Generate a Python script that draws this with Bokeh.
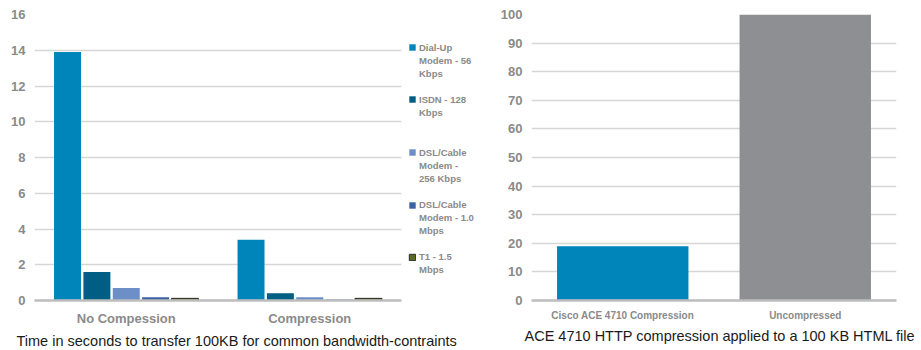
from bokeh.plotting import figure
from bokeh.layouts import row
from bokeh.models import (ColumnDataSource, FactorRange, Range1d, Legend, LegendItem,
                          Title, SingleIntervalTicker, FixedTicker)
from bokeh.transform import dodge
from bokeh.embed import file_html
from bokeh.resources import INLINE

# ---------------- data ----------------
categories = ["No Compession", "Compression"]
series_labels = [["Dial-Up", "Modem - 56", "Kbps"],
                 ["ISDN - 128", "Kbps"],
                 ["DSL/Cable", "Modem -", "256 Kbps"],
                 ["DSL/Cable", "Modem - 1.0", "Mbps"],
                 ["T1 - 1.5", "Mbps"]]
dialup = [13.9, 3.4]
isdn = [1.6, 0.4]
dsl256 = [0.7, 0.18]
dsl1 = [0.18, 0.05]
t1 = [0.12, 0.12]

categories2 = ["Cisco ACE 4710 Compression", "Uncompressed"]
sizes2 = [19, 100]

title1 = "Time in seconds to transfer 100KB for common bandwidth-contraints"
title2 = "ACE 4710 HTTP compression applied to  a 100 KB HTML file"

FONT = "Liberation Sans"
GREY_TXT = "#8A8A8A"
GRID = "#D6D6D6"
BASE = "#BDBDBD"
fills = ["#0085BA", "#005E85", "#6B8FC6", "#3D62A3", "#5C6B1D"]
lines = ["#0085BA", "#005E85", "#6B8FC6", "#3D62A3", "#2B2B2B"]

# ---------------- left chart ----------------
# categories sit at numeric slots 0.5, 1.5; the frame continues to the right to hold the legend
cat_pos = [i + 0.5 for i in range(len(categories))]
n_cat = len(categories)
CAT_W = 367          # pixel width of the category area
LEFT_W = 481
FRAME_W = LEFT_W - 34
FRAME_H = 286
src = ColumnDataSource(dict(x=cat_pos, s0=dialup, s1=isdn, s2=dsl256, s3=dsl1, s4=t1))
p1 = figure(x_range=Range1d(0, n_cat * FRAME_W / CAT_W), y_range=Range1d(0, 16),
            width=LEFT_W, height=350, output_backend="svg", toolbar_location=None,
            min_border_left=34, min_border_right=0, min_border_top=14, min_border_bottom=50)
offsets = [-0.32, -0.16, 0.0, 0.16, 0.32]
ROW_H = 13.2
ITEM_PITCH = 52.5
FIRST_TOP = 26
for i, off in enumerate(offsets):
    r = p1.vbar(x=dodge("x", off), top="s%d" % i, width=0.147, source=src,
                fill_color=fills[i], line_color=lines[i], line_width=1 if i == 4 else 0)
    lab = series_labels[i]
    its = [LegendItem(label=lab[0], renderers=[r])] + \
          [LegendItem(label=t, renderers=[]) for t in lab[1:]]
    h = ROW_H * len(lab)
    top = FIRST_TOP + i * ITEM_PITCH
    leg = Legend(items=its, location=(CAT_W + 7, FRAME_H - top - h), margin=0, padding=0, spacing=0,
                 glyph_width=8, glyph_height=8, label_standoff=3, label_height=int(ROW_H),
                 label_text_font=FONT, label_text_font_size="9.5px", label_text_font_style="bold",
                 label_text_color=GREY_TXT, label_text_line_height=1.0,
                 border_line_alpha=0, background_fill_alpha=0)
    p1.add_layout(leg)

p1.xaxis.ticker = FixedTicker(ticks=cat_pos)
p1.xaxis.major_label_overrides = {c: n for c, n in zip(cat_pos, categories)}
p1.xaxis.bounds = (0, n_cat)
p1.ygrid.cross_bounds = (0, n_cat)
p1.yaxis.ticker = SingleIntervalTicker(interval=2)

# ---------------- right chart ----------------
src2 = ColumnDataSource(dict(cat=categories2, v=sizes2, c=[fills[0], "#8E8F93"]))
p2 = figure(x_range=FactorRange(factors=categories2, range_padding=0), y_range=Range1d(0, 100),
            width=921 - LEFT_W, height=350, output_backend="svg", toolbar_location=None,
            min_border_left=531 - LEFT_W, min_border_right=25, min_border_top=14, min_border_bottom=50)
p2.vbar(x="cat", top="v", width=0.72, source=src2, fill_color="c", line_color=None)
p2.yaxis.ticker = SingleIntervalTicker(interval=10)

for p, title, cat_size, cat_standoff, toff in ((p1, title1, "13px", 10, -18), (p2, title2, "10px", 9, -7)):
    p.outline_line_color = None
    p.xgrid.grid_line_color = None
    p.ygrid.grid_line_color = GRID
    p.ygrid.grid_line_width = 1.5
    for ax in (p.xaxis, p.yaxis):
        ax.major_tick_line_color = None
        ax.minor_tick_line_color = None
        ax.major_tick_out = 0
        ax.major_tick_in = 0
        ax.minor_tick_out = 0
        ax.major_label_text_font = FONT
        ax.major_label_text_font_style = "bold"
        ax.major_label_text_color = GREY_TXT
    p.yaxis.axis_line_color = None
    p.yaxis.major_label_text_font_size = "13px"
    p.yaxis.major_label_standoff = 9
    p.xaxis.axis_line_color = BASE
    p.xaxis.axis_line_width = 2.5
    p.xaxis.major_label_text_font_size = cat_size
    p.xaxis.major_label_standoff = cat_standoff
    p.add_layout(Title(text=title, align="left", offset=toff, standoff=4, text_font=FONT,
                       text_font_size="14.5px", text_font_style="normal", text_color="#1A1A1A"),
                 "below")

layout = row(p1, p2)
open("out.html", "w").write(file_html(layout, INLINE))
